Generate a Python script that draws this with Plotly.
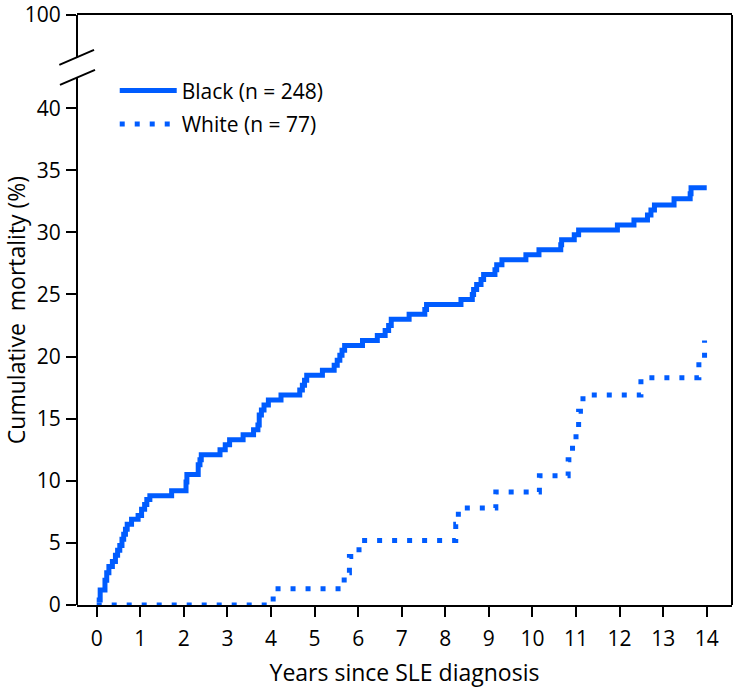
import plotly.graph_objects as go

# ---------------- data ----------------
years_black = [0.00, 0.08, 0.19, 0.23, 0.28, 0.36, 0.43, 0.48, 0.53, 0.58, 0.62, 0.66, 0.70,
               0.80, 0.95, 1.03, 1.10, 1.15, 1.22, 1.72, 2.05, 2.07, 2.33, 2.37, 2.40, 2.83,
               2.95, 3.05, 3.36, 3.60, 3.70, 3.73, 3.78, 3.84, 3.94, 4.23, 4.66, 4.72, 4.77,
               4.82, 5.18, 5.45, 5.52, 5.58, 5.63, 5.69, 6.10, 6.44, 6.62, 6.70, 6.76, 7.17,
               7.53, 7.57, 8.36, 8.62, 8.65, 8.72, 8.82, 8.88, 9.14, 9.18, 9.30, 9.85, 10.15,
               10.65, 10.67, 10.96, 11.06, 11.95, 12.33, 12.64, 12.72, 12.80, 13.25, 13.62,
               13.64, 14.00]
mort_black = [0.4, 1.2, 2.0, 2.6, 3.1, 3.5, 4.0, 4.4, 4.8, 5.3, 5.7, 6.1, 6.5,
              6.9, 7.2, 7.7, 8.1, 8.5, 8.8, 9.2, 9.9, 10.5, 11.3, 11.7, 12.1, 12.5,
              12.9, 13.3, 13.7, 14.1, 14.5, 15.3, 15.7, 16.1, 16.5, 16.9, 17.3, 17.7, 18.1,
              18.5, 18.9, 19.3, 19.7, 20.1, 20.5, 20.9, 21.3, 21.7, 22.1, 22.5, 23.0, 23.4,
              23.8, 24.2, 24.6, 25.0, 25.4, 25.8, 26.2, 26.6, 27.0, 27.4, 27.8, 28.2, 28.6,
              29.0, 29.4, 29.8, 30.2, 30.6, 31.0, 31.4, 31.8, 32.2, 32.7, 33.1,
              33.6, 33.6]

years_white = [0.00, 4.05, 5.68, 5.80, 6.02, 8.24, 8.30, 9.16, 10.16, 10.82, 10.92,
               11.00, 11.06, 11.16, 12.49, 13.82, 13.95]
mort_white = [0.0, 1.3, 2.6, 3.9, 5.2, 6.5, 7.8, 9.1, 10.4, 11.7, 13.0,
              14.3, 15.6, 16.9, 18.3, 19.8, 21.3]

series_names = ["Black (n = 248)", "White (n = 77)"]
x_ticks = list(range(0, 15))
y_ticks = [0, 5, 10, 15, 20, 25, 30, 35, 40]
y_top_label = "100"          # value shown above the axis break
y_top_slot = 47.50           # where the "100" tick sits on the compressed axis
y_break = (42.45, 44.07)     # gap in the y axis line

BLUE = "#005CFF"
FONT = "Open Sans"

fig = go.Figure()
fig.add_trace(go.Scatter(x=years_black, y=mort_black, mode="lines", line_shape="hv",
                         name=series_names[0], legendgroup="b",
                         line=dict(color=BLUE, width=5)))
fig.add_trace(go.Scatter(x=years_white, y=mort_white, mode="lines", line_shape="hv",
                         name=series_names[1], legendgroup="w",
                         line=dict(color=BLUE, width=5, dash="5px,10px")))

ax_line = dict(color="black", width=2)
shapes = [
    dict(type="line", xref="paper", yref="y", x0=0, x1=0, y0=0, y1=y_break[0], line=ax_line, layer="above"),
    dict(type="line", xref="paper", yref="y", x0=0, x1=0, y0=y_break[1], y1=y_top_slot, line=ax_line, layer="above"),
    dict(type="line", xref="paper", yref="y", x0=1, x1=1, y0=0, y1=y_top_slot, line=ax_line, layer="above"),
    dict(type="line", xref="paper", yref="y", x0=-0.027, x1=0.026, y0=43.48, y1=44.69, line=ax_line),
    dict(type="line", xref="paper", yref="y", x0=-0.026, x1=0.0275, y0=41.87, y1=43.08, line=ax_line),
]

fig.update_layout(
    width=735, height=688,
    margin=dict(l=77, r=3, t=15, b=83),
    paper_bgcolor="white", plot_bgcolor="white",
    font=dict(family=FONT, color="black", size=21),
    shapes=shapes,
    showlegend=True,
    legend=dict(x=0.0576, y=0.906, xanchor="left", yanchor="top",
                font=dict(size=21, family=FONT), bgcolor="rgba(0,0,0,0)",
                itemwidth=57, tracegroupgap=3, traceorder="grouped"),
    xaxis=dict(range=[-0.452, 14.58], tickvals=x_ticks, ticktext=[str(t) for t in x_ticks],
               showline=True, linecolor="black", linewidth=2, mirror=True,
               ticks="outside", ticklen=10, tickwidth=2, tickcolor="black",
               ticklabelstandoff=4, automargin=False,
               showgrid=False, zeroline=False, tickfont=dict(size=21),
               title=dict(text="Years since SLE diagnosis", font=dict(size=23), standoff=19)),
    yaxis=dict(range=[0, y_top_slot], tickvals=y_ticks + [y_top_slot],
               ticktext=[str(t) for t in y_ticks] + [y_top_label],
               showline=False, ticks="outside", ticklen=10, tickwidth=2, tickcolor="black",
               ticklabelstandoff=1, ticklabeloverflow="allow", automargin=False,
               showgrid=False, zeroline=False, tickfont=dict(size=21),
               title=dict(text="Cumulative  mortality (%)", font=dict(size=23), standoff=20)),
)

# remove the browser's default 8px body margin so the figure fills the window exactly
fig.write_html("out.html", config={"displayModeBar": False},
               post_script="document.body.style.margin='0';")
